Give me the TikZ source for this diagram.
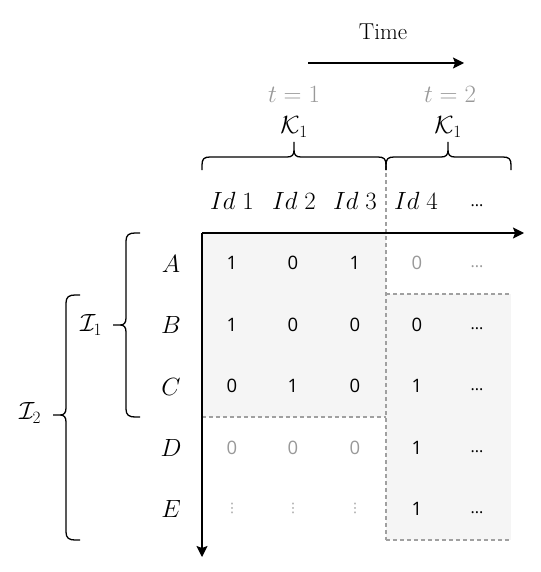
\documentclass[tikz,border=0pt]{standalone}
\usepackage{fontspec}
\newfontfamily\numfont{Open Sans}
\newfontfamily\dvfont{DejaVu Sans}
\usetikzlibrary{arrows.meta}
\definecolor{lgray}{HTML}{999999}
\definecolor{cellfill}{HTML}{F5F5F5}
\definecolor{dashgray}{HTML}{A0A0A0}
\begin{document}
\begin{tikzpicture}[x=1pt,y=-1pt,
  bigtext/.style={font=\fontsize{23}{27}\selectfont, inner sep=0pt},
  cell/.style={font=\numfont\fontsize{18.5}{22}\selectfont, inner sep=0pt},
  gcell/.style={cell, text=lgray},
  dots/.style={font=\numfont\fontsize{16}{19}\selectfont, inner sep=0pt},
  vdots/.style={font=\dvfont\fontsize{13}{15}\selectfont, inner sep=0pt, text=lgray},
  axis/.style={line width=1.5pt, -{Stealth[length=11pt,width=11pt,inset=2pt]}},
  bracestyle/.style={line width=1.3pt},
  sep/.style={dashgray, line width=1.2pt, dash pattern=on 4pt off 3pt}
]
\useasboundingbox (0,0) rectangle (540,572);
% shaded regions
\fill[cellfill] (202,233) rectangle (386,417);
\fill[cellfill] (386,294) rectangle (511,540);
% dashed separators
\draw[sep] (386,166) -- (386,540);
\draw[sep] (202,417) -- (386,417);
\draw[sep] (386,294) -- (511,294);
\draw[sep] (386,540) -- (511,540);
% axes
\coordinate (origin) at (202,233);
\coordinate (xend) at (524,233);
\coordinate (yend) at (202,557);
\draw[axis] (origin) -- (xend);
\draw[axis] (origin) -- (yend);
% time arrow
\node[bigtext] (time) at (383,32) {Time};
\coordinate (ts) at (308,63);
\coordinate (te) at (464,63);
\draw[axis, line width=1.3pt] (ts) -- (te);
% t labels
\node[bigtext, text=lgray] (t1) at (294,94) {$t=1$};
\node[bigtext, text=lgray] (t2) at (450,94) {$t=2$};
\node[bigtext] (k1) at (294,127) {$\mathcal{K}_1$};
\node[bigtext] (k2) at (448,127) {$\mathcal{K}_1$};
% top braces
\draw[bracestyle] (202,170) -- (202,165) .. controls (202,159) and (204,157) .. (210,157) -- (287,157) .. controls (292,157) and (294,155) .. (294,150) -- (294,142)
  (294,150) .. controls (294,155) and (296,157) .. (301,157) -- (378,157) .. controls (384,157) and (386,159) .. (386,165) -- (386,170);
\draw[bracestyle] (386,170) -- (386,165) .. controls (386,159) and (388,157) .. (394,157) -- (441,157) .. controls (446,157) and (448,155) .. (448,150) -- (448,142)
  (448,150) .. controls (448,155) and (450,157) .. (455,157) -- (503,157) .. controls (509,157) and (511,159) .. (511,165) -- (511,170);
% headers
\node[bigtext] (h1) at (232,201) {$Id\;1$};
\node[bigtext] (h2) at (294,201) {$Id\;2$};
\node[bigtext] (h3) at (355,201) {$Id\;3$};
\node[bigtext] (h4) at (416,201) {$Id\;4$};
\node[dots] (h5) at (477,206) {...};
% row labels
\node[bigtext] (rA) at (171,264) {$A$};
\node[bigtext] (rB) at (171,325) {$B$};
\node[bigtext] (rC) at (171,387) {$C$};
\node[bigtext] (rD) at (171,448) {$D$};
\node[bigtext] (rE) at (171,509) {$E$};
% cells row A
\node[cell] (a1) at (232,263) {1};
\node[cell] (a2) at (293,263) {0};
\node[cell] (a3) at (355,263) {1};
\node[gcell] (a4) at (417,263) {0};
\node[dots, text=lgray] (a5) at (477,267) {...};
% row B
\node[cell] (b1) at (232,325) {1};
\node[cell] (b2) at (293,325) {0};
\node[cell] (b3) at (355,325) {0};
\node[cell] (b4) at (417,325) {0};
\node[dots] (b5) at (477,329) {...};
% row C
\node[cell] (c1) at (232,386) {0};
\node[cell] (c2) at (293,386) {1};
\node[cell] (c3) at (355,386) {0};
\node[cell] (c4) at (417,386) {1};
\node[dots] (c5) at (477,390) {...};
% row D
\node[gcell] (d1) at (232,448) {0};
\node[gcell] (d2) at (293,448) {0};
\node[gcell] (d3) at (355,448) {0};
\node[cell] (d4) at (417,448) {1};
\node[dots] (d5) at (477,452) {...};
% row E
\node[vdots] (e1) at (232,508) {⋮};
\node[vdots] (e2) at (293,508) {⋮};
\node[vdots] (e3) at (355,508) {⋮};
\node[cell] (e4) at (417,509) {1};
\node[dots] (e5) at (477,513) {...};
% left braces
\draw[bracestyle] (140,233) -- (135,233) .. controls (129,233) and (126,235) .. (126,241) -- (126,318) .. controls (126,323) and (124,325) .. (120,325) -- (113,325)
  (120,325) .. controls (124,325) and (126,327) .. (126,332) -- (126,409) .. controls (126,415) and (129,417) .. (135,417) -- (140,417);
\node[bigtext] (I1) at (91,325) {$\mathcal{I}_1$};
\draw[bracestyle] (80,295) -- (75,295) .. controls (69,295) and (66,297) .. (66,303) -- (66,408) .. controls (66,413) and (64,415) .. (60,415) -- (53,415)
  (60,415) .. controls (64,415) and (66,417) .. (66,422) -- (66,532) .. controls (66,538) and (69,540) .. (75,540) -- (80,540);
\node[bigtext] (I2) at (30,413) {$\mathcal{I}_2$};
\end{tikzpicture}
\end{document}
